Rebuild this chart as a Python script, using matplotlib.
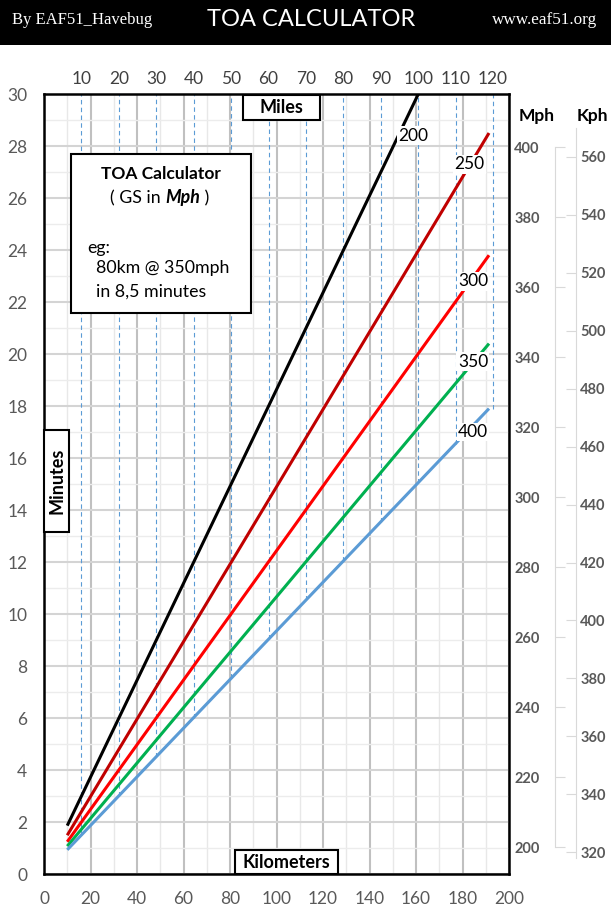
import numpy as np
import matplotlib.pyplot as plt
from matplotlib.patches import Rectangle
from matplotlib.text import Annotation

plt.rcParams['font.family'] = ['Lato', 'DejaVu Sans']

speeds = ['200', '250', '300', '350', '400']
colors = ['#000000', '#C00000', '#FF0000', '#00B050', '#5B9BD5']
km_start = [10, 10, 10, 10, 10]
km_end = [161, 191.4, 191.4, 191.4, 191.4]
min_start = [1.86, 1.49, 1.24, 1.07, 0.93]
min_end = [30.0, 28.5, 23.8, 20.4, 17.9]
label_km = [159, 183, 184.5, 184.5, 184.5]
label_min = [28.4, 27.3, 22.8, 19.7, 17.0]

km_ticks = list(range(0, 201, 20))
min_ticks = list(range(0, 31, 2))
mile_ticks = [10, 20, 30, 40, 50, 60, 70, 80, 90, 100, 110, 120]
mph_ticks = [200, 220, 240, 260, 280, 300, 320, 340, 360, 380, 400]
kph_ticks = [320, 340, 360, 380, 400, 420, 440, 460, 480, 500, 520, 540, 560]
KM_PER_MILE = 1.609344

W, H = 611, 922
fig = plt.figure(figsize=(W / 100, H / 100), dpi=100)


def fbox(x0, y0, x1, y1):
    # pixel box (top-left origin) -> figure fraction rect
    return [x0 / W, 1 - y1 / H, (x1 - x0) / W, (y1 - y0) / H]


def px(x, y):
    return x / W, 1 - y / H


# header band
fig.add_artist(Rectangle((0, 1 - 45 / H), 1, 45 / H, transform=fig.transFigure,
                         facecolor='black', edgecolor='none', zorder=0))
fig.text(*px(12, 20), 'By EAF51_Havebug', color='white', fontsize=12,
         family='Liberation Serif', va='center', ha='left')
fig.text(*px(311, 20), 'TOA CALCULATOR', color='white', fontsize=17,
         va='center', ha='center')
fig.text(*px(597, 20), 'www.eaf51.org', color='white', fontsize=12.3,
         family='Liberation Serif', va='center', ha='right')

# main chart
ax = fig.add_axes(fbox(44, 94, 509, 874))
ax.set_xlim(0, 200)
ax.set_ylim(0, 30)
ax.set_xticks(km_ticks)
ax.set_yticks(min_ticks)
ax.set_xticks(range(10, 200, 20), minor=True)
ax.set_yticks(range(1, 30, 2), minor=True)
ax.tick_params(which='both', length=0)
ax.tick_params(axis='x', pad=12, labelsize=12.5, labelcolor='#595959')
ax.tick_params(axis='y', pad=12, labelsize=12.5, labelcolor='#595959')
ax.grid(axis='x', which='major', color='#c0c0c0', lw=1.5, zorder=0)
ax.grid(axis='x', which='minor', color='#e8e8e8', lw=1.0, zorder=0)
ax.grid(axis='y', which='major', color='#d4d4d4', lw=1.5, zorder=0)
ax.grid(axis='y', which='minor', color='#ececec', lw=1.0, zorder=0)
ax.set_axisbelow(True)
for s in ax.spines.values():
    s.set_linewidth(1.8)
    s.set_color('black')

# mile drop lines, from the top down to the 400 mph line
for m in mile_ticks:
    k = m * KM_PER_MILE
    bottom = np.interp(k, [km_start[-1], km_end[-1]], [min_start[-1], min_end[-1]])
    ax.plot([k, k], [bottom, 30], color='#5B9BD5', lw=0.8, ls=(0, (4, 3)), zorder=1)

for i in range(len(speeds)):
    ax.plot([km_start[i], km_end[i]], [min_start[i], min_end[i]],
            color=colors[i], lw=2.2, solid_capstyle='butt', zorder=3)
    ax.text(label_km[i], label_min[i], speeds[i], fontsize=12.5, ha='center', va='center',
            zorder=4, bbox=dict(facecolor='white', edgecolor='none', pad=1))

top = ax.secondary_xaxis('top', functions=(lambda k: k / KM_PER_MILE,
                                           lambda m: m * KM_PER_MILE))
top.set_xticks(mile_ticks)
top.tick_params(length=0, pad=5, labelsize=12.5, labelcolor='#404040')
top.spines['top'].set_visible(False)

# mph scale
ax_mph = fig.add_axes(fbox(555, 147, 556, 847))
ax_mph.set_ylim(200, 400)
ax_mph.set_yticks(mph_ticks)
ax_mph.set_xticks([])
for k in ['top', 'right', 'bottom']:
    ax_mph.spines[k].set_visible(False)
ax_mph.spines['left'].set_color('#d9d9d9')
ax_mph.patch.set_visible(False)
ax_mph.tick_params(axis='y', direction='in', length=7, color='#d9d9d9', pad=11,
                   labelsize=10.5, labelcolor='#595959')
for t in ax_mph.get_yticklabels():
    t.set_fontweight('bold')

# kph scale
ax_kph = fig.add_axes(fbox(575, 128, 576, 858))
ax_kph.set_ylim(318, 570)
ax_kph.set_yticks(kph_ticks)
ax_kph.set_xticks([])
for k in ['top', 'left', 'bottom']:
    ax_kph.spines[k].set_visible(False)
ax_kph.spines['right'].set_color('#d9d9d9')
ax_kph.patch.set_visible(False)
ax_kph.yaxis.tick_right()
ax_kph.tick_params(axis='y', direction='in', length=7, color='#d9d9d9', pad=3,
                   labelsize=10.5, labelcolor='#595959')
for t in ax_kph.get_yticklabels():
    t.set_fontweight('bold')

fig.text(*px(537, 116), 'Mph', fontsize=12.5, fontweight='bold', ha='center', va='center')
fig.text(*px(592, 116), 'Kph', fontsize=12.5, fontweight='bold', ha='center', va='center')


# boxed labels
def box(x0, y0, x1, y1):
    r = fbox(x0, y0, x1, y1)
    fig.add_artist(Rectangle((r[0], r[1]), r[2], r[3], transform=fig.transFigure,
                             facecolor='white', edgecolor='black', lw=1.5, zorder=5))


box(243, 95, 320, 120)
fig.text(*px(281, 107), 'Miles', fontsize=13, fontweight='bold', ha='center', va='center', zorder=6)
box(235, 850, 338, 874)
fig.text(*px(286, 862), 'Kilometers', fontsize=13, fontweight='bold', ha='center', va='center', zorder=6)
box(44, 430, 69, 532)
fig.text(*px(57, 481), 'Minutes', fontsize=13, fontweight='bold', rotation=90,
         ha='center', va='center', zorder=6)

box(71, 154, 251, 313)
fig.text(*px(161, 174), 'TOA Calculator', fontsize=12.5, fontweight='bold', ha='center', va='center', zorder=6)
t1 = fig.text(*px(110, 198), '( GS in ', fontsize=12.8, ha='left', va='center', zorder=6)
t2 = Annotation('Mph', xy=(1, 0), xycoords=t1, fontsize=12.8, fontweight='bold',
                fontstyle='italic', va='bottom', zorder=6)
fig.add_artist(t2)
t3 = Annotation(' )', xy=(1, 0), xycoords=t2, fontsize=12.8, va='bottom', zorder=6)
fig.add_artist(t3)
fig.text(*px(87, 248), 'eg:', fontsize=12.8, ha='left', va='center', zorder=6)
fig.text(*px(96, 268), '80km @ 350mph', fontsize=12.8, ha='left', va='center', zorder=6)
fig.text(*px(96, 292), 'in 8,5 minutes', fontsize=12.8, ha='left', va='center', zorder=6)

fig.savefig('out.png', dpi=100)
